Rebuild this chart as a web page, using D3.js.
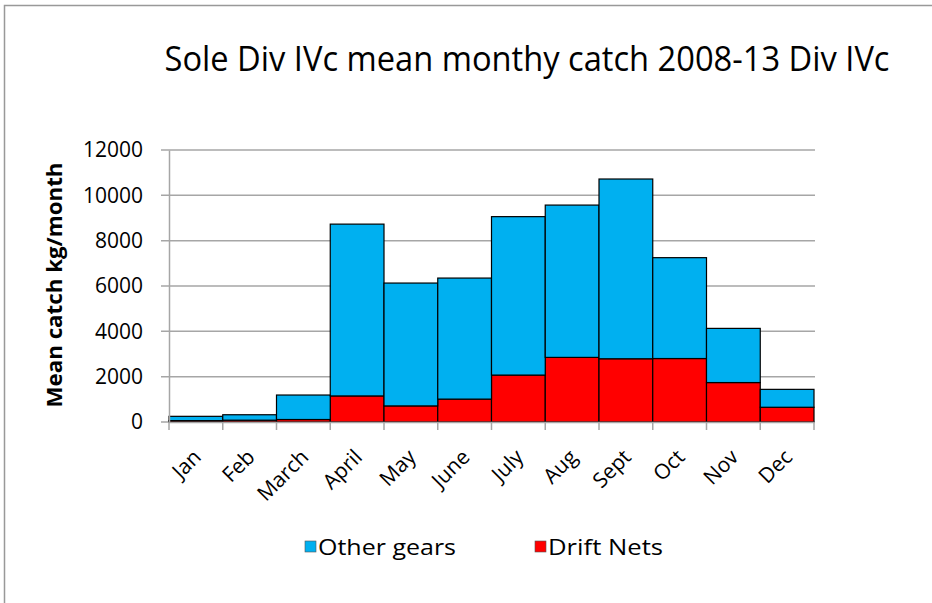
<!DOCTYPE html>
<html><head><meta charset="utf-8">
<script src="https://cdn.jsdelivr.net/npm/d3@7"></script>
<style>body{margin:0;background:#fff}svg{display:block}text{font-family:"Open Sans",sans-serif;fill:#000}</style>
</head><body>
<script>
const months = ["Jan","Feb","March","April","May","June","July","Aug","Sept","Oct","Nov","Dec"];
const driftNets = [60,80,110,1150,710,1010,2070,2850,2790,2800,1740,650];
const otherGears = [190,240,1080,7580,5420,5340,6990,6720,7930,4450,2390,790];
const yTicks = [0,2000,4000,6000,8000,10000,12000];
const seriesNames = ["Other gears","Drift Nets"];
const colors = {"Drift Nets":"#FF0000","Other gears":"#00B0F0"};

const W=932,H=603;
const svg=d3.select("body").append("svg").attr("width",W).attr("height",H);
svg.append("rect").attr("x",4.5).attr("y",5.5).attr("width",1000).attr("height",1000)
  .attr("fill","none").attr("stroke","#999").attr("stroke-width",1.5);

const x=d3.scaleBand().domain(months).range([169,814]).padding(0);
const y=d3.scaleLinear().domain([0,12000]).range([422,150]);

// gridlines
svg.append("g").selectAll("line").data(yTicks).join("line")
  .attr("x1",161).attr("x2",815).attr("y1",d=>y(d)).attr("y2",d=>y(d))
  .attr("stroke","#a6a6a6").attr("stroke-width",1.5);

// stacked bars
const data=months.map((m,i)=>({month:m,"Drift Nets":driftNets[i],"Other gears":otherGears[i]}));
const stack=d3.stack().keys(["Drift Nets","Other gears"])(data);
svg.append("g").selectAll("g").data(stack).join("g").attr("fill",s=>colors[s.key])
  .selectAll("rect").data(s=>s).join("rect")
  .attr("x",d=>x(d.data.month)).attr("width",x.bandwidth())
  .attr("y",d=>y(d[1])).attr("height",d=>y(d[0])-y(d[1]))
  .attr("stroke","#000").attr("stroke-width",1.2);

// y axis
const ya=svg.append("g").attr("transform","translate(169,0)")
  .call(d3.axisLeft(y).tickValues(yTicks).tickSize(0).tickPadding(26).tickFormat(d3.format("d")));
ya.select(".domain").attr("stroke","#a6a6a6").attr("stroke-width",1.5);
ya.selectAll("text").style("font-size","21px").style("font-family","'Open Sans',sans-serif").attr("fill","#111");

// x axis
const xa=svg.append("g").attr("transform","translate(0,422)")
  .call(d3.axisBottom(x).tickSize(0).tickFormat(""));
xa.select(".domain").attr("stroke","#a6a6a6").attr("stroke-width",1.5);
const bounds=months.map(m=>x(m)).concat([x.range()[1]]);
svg.append("g").selectAll("line").data(bounds).join("line")
  .attr("x1",d=>d).attr("x2",d=>d).attr("y1",422).attr("y2",430)
  .attr("stroke","#a6a6a6").attr("stroke-width",1.5);
svg.append("g").selectAll("text").data(months).join("text")
  .attr("transform",d=>`translate(${x(d)+x.bandwidth()/2-4},448) rotate(-45)`)
  .attr("text-anchor","end").attr("dy","0.7em").style("font-size","21px").text(d=>d);

// title
svg.append("text").attr("x",527).attr("y",71).attr("text-anchor","middle")
  .attr("textLength",725).attr("lengthAdjust","spacingAndGlyphs")
  .style("font-size","34px").text("Sole Div IVc mean monthy catch 2008-13 Div IVc");

// y title
svg.append("text").attr("transform","translate(62,285) rotate(-90)").attr("text-anchor","middle")
  .attr("textLength",245).attr("lengthAdjust","spacingAndGlyphs")
  .style("font-size","21px").style("font-weight","bold").text("Mean catch kg/month");

// legend
const legX=[305,535];
const legW=[138,115];
const lg=svg.append("g").selectAll("g").data(seriesNames).join("g")
  .attr("transform",(d,i)=>`translate(${legX[i]},541)`);
lg.append("rect").attr("width",11).attr("height",11).attr("fill",d=>colors[d]).attr("stroke","#555").attr("stroke-width",0.6);
lg.append("text").attr("x",13).attr("y",14).style("font-size",'21px').attr("fill","#222")
  .attr("textLength",(d,i)=>legW[i]).attr("lengthAdjust","spacingAndGlyphs").text(d=>d);
</script>
</body></html>
